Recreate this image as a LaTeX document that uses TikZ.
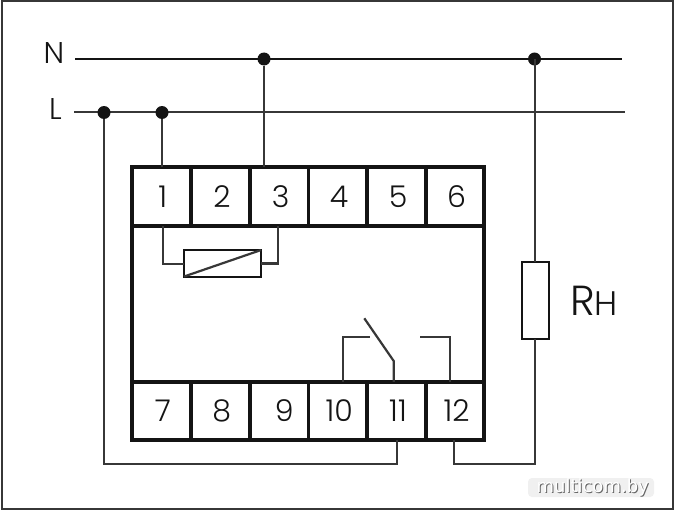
\documentclass[tikz,border=0pt]{standalone}
\usepackage{fontspec}
\newfontfamily\gf{Poppins Light}
\definecolor{ink}{HTML}{141414}
\tikzset{
  x=1pt,y=-1pt,
  wire/.style={draw=ink!85!white,line width=2.2pt},
  bus/.style={draw=ink,line width=2.2pt},
  frameline/.style={draw=ink!85!white,line width=2pt},
  term/.style={draw=ink,line width=3.6pt,rectangle,inner sep=0pt,outer sep=0pt,minimum height=58.5pt,font=\gf\fontsize{30}{30}\selectfont,text=ink},
  lbl/.style={inner sep=0pt,font=\gf\fontsize{30}{30}\selectfont,text=ink},
  dot/.style={circle,fill=ink,inner sep=0pt,minimum size=13pt},
  part/.style={draw=ink,line width=2pt,rectangle,inner sep=0pt,outer sep=0pt,fill=white},
  body/.style={draw=ink,line width=3.6pt,rectangle,inner sep=0pt,outer sep=0pt},
}
\begin{document}
\begin{tikzpicture}
\useasboundingbox (0,0) rectangle (674,511);
\fill[white] (0,0) rectangle (674,511);
\draw[frameline] (2,1.5) rectangle (672.5,509);
% device body
\node[body,minimum width=352pt,minimum height=273pt] (dev) at (308,303.5) {};
% terminals
\foreach \n/\t/\a/\b/\y in {t1/1/132/190.7/196.5,t2/2/190.7/250/196.5,t3/3/250/308.3/196.5,t4/4/308.3/367/196.5,t5/5/367/426/196.5,t6/6/426/484/196.5,t7/7/132/190.7/411,t8/8/190.7/250/411,t10/10/308.3/367/411,t11/11/367/426/411,t12/12/426/484/411}{
  \pgfmathsetmacro{\cx}{(\a+\b)/2}
  \pgfmathsetmacro{\w}{\b-\a}
  \node[term,minimum width=\w pt] (\n) at (\cx,\y) {\hspace{3pt}\t};
}
\node[term,minimum width=58.3pt] (t9) at (279.15,411) {\hspace{10pt}9};
% bus lines
\coordinate (Na) at (75,59);
\coordinate (Nb) at (622,59);
\coordinate (La) at (74,112);
\coordinate (Lb) at (625,112);
\draw[bus] (Na) -- (Nb);
\draw[wire] (La) -- (Lb);
\node[lbl] (labN) at (54,53) {N};
\node[lbl] (labL) at (55.5,109.5) {L};
\node[dot] (d1) at (264,59) {};
\node[dot] (d2) at (534.5,59) {};
\node[dot] (d3) at (104,112.5) {};
\node[dot] (d4) at (162,112.5) {};
% load
\node[part,minimum width=27pt,minimum height=77pt] (rh) at (535,300.5) {};
\node[inner sep=0pt,anchor=base west,text=ink] (labR) at (570,315) {{\gf\fontsize{42}{42}\selectfont R}{\gf\fontsize{34}{34}\selectfont H}};
% wires from buses
\draw[wire] (d4) -- (d4 |- t1.north);
\draw[wire] (d1) -- (d1 |- t3.north);
\draw[wire] (rh.north |- d2) -- (rh.north);
\coordinate (c12) at (454,464);
\draw[wire] (rh.south) -- (rh.south |- c12) -- (c12) -- (c12 |- t12.south);
\coordinate (c11) at (396.8,464);
\draw[wire] (d3) -- (d3 |- c11) -- (c11) -- (c11 |- t11.south);
% coil
\node[part,minimum width=77pt,minimum height=26.5pt] (coil) at (222.5,263.3) {};
\draw[wire] (coil.south west) -- (coil.north east);
\coordinate (cl) at (162.7,264);
\coordinate (cr) at (278,263.5);
\draw[wire] (cl |- t1.south) -- (cl) -- (cl -| coil.west);
\draw[wire] (cr |- t3.south) -- (cr) -- (cr -| coil.east);
% contact
\coordinate (k10) at (343.3,337.3);
\coordinate (k10e) at (370,337.3);
\coordinate (k12) at (449.7,337.3);
\coordinate (k12e) at (420,337.3);
\coordinate (sw) at (364.3,318.3);
\coordinate (swb) at (393.7,361);
\draw[wire] (k10 |- t10.north) -- (k10) -- (k10e);
\draw[wire] (k12 |- t12.north) -- (k12) -- (k12e);
\draw[wire] (sw) -- (swb) -- (swb |- t11.north);
% watermark
\fill[black!6,rounded corners=4pt] (528,478) rectangle (654,497);
\node[inner sep=0pt,text=black!60,font=\fontspec{DejaVu Sans}\fontsize{18}{18}\selectfont] at (593.7,488.2) {multicom.by};
\node[inner sep=0pt,text=white,font=\fontspec{DejaVu Sans}\fontsize{18}{18}\selectfont] (wm) at (592.7,487.2) {multicom.by};
\end{tikzpicture}
\end{document}
